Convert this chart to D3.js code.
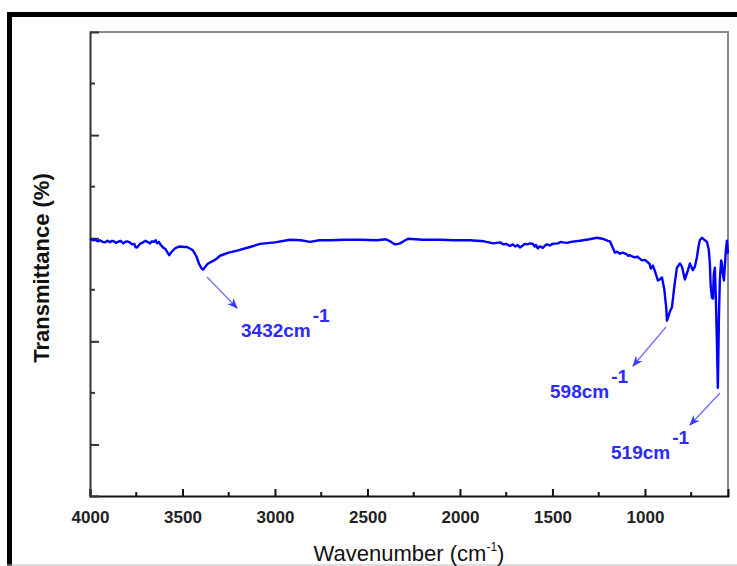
<!DOCTYPE html>
<html>
<head>
<meta charset="utf-8">
<script src="https://cdn.jsdelivr.net/npm/d3@7"></script>
<style>
  body { margin: 0; background: #fff; }
  svg { display: block; font-family: "Liberation Sans", Arial, sans-serif; }
</style>
</head>
<body>
<div id="plot"></div>
<script>
// FTIR spectrum, values
const wavenumber = [4000,3985,3970,3958,3946,3932,3920,3905,3892,3880,3870,3860,3849,3835,3820,3810,3800,3785,3773,3760,
  3755,3746,3730,3714,3700,3690,3676,3665,3655,3645,3638,3628,3620,3605,3590,3584,3572,3560,3541,3525,
  3514,3490,3476,3455,3443,3425,3410,3398,3389,3380,3365,3351,3320,3297,3250,3205,3135,3081,3000,2919,
  2860,2811,2760,2703,2620,2541,2450,2400,2378,2351,2335,2324,2300,2281,2200,2108,2030,1946,1870,1820,
  1784,1765,1750,1730,1715,1700,1688,1676,1660,1650,1638,1620,1606,1596,1590,1579,1570,1560,1552,1540,
  1530,1514,1500,1470,1455,1443,1420,1400,1352,1300,1260,1230,1200,1189,1178,1162,1150,1135,1120,1100,
  1090,1081,1066,1054,1040,1030,1016,1000,984,975,968,957,946,930,920,908,895,885,881,876,
  865,854,840,827,811,800,784,770,757,741,730,719,710,703,692,676,665,655,649,645,
  638,632,628,622,616,611,606,604,600,595,588,584,578,573,568,563,557,553,551];
const transmittance = [39.9,39.6,39.7,39.4,39.6,39.3,39.2,39.5,39.2,39.5,39.4,39.1,39.3,39.5,39.0,39.3,39.4,39.2,38.8,38.9,
  38.3,38.2,38.9,39.2,39.5,39.3,39.0,39.4,39.3,39.6,39.0,39.3,38.8,38.2,37.8,37.4,36.7,37.3,38.0,38.3,
  38.4,38.3,38.3,37.9,37.6,36.5,35.0,34.2,33.9,34.3,35.0,35.3,35.9,36.6,37.2,37.6,38.3,38.9,39.2,39.7,
  39.6,39.3,39.6,39.6,39.7,39.7,39.6,39.8,39.4,38.8,38.9,39.0,39.5,39.9,39.7,39.7,39.6,39.6,39.4,39.0,
  39.2,38.8,38.9,38.5,38.8,38.4,38.7,38.2,38.6,38.9,38.8,39.0,38.9,38.4,38.7,38.0,38.4,38.3,38.1,38.6,
  38.8,38.6,38.9,39.0,39.3,39.2,39.1,39.3,39.5,39.8,40.1,39.9,39.5,39.4,38.5,37.2,37.4,37.0,37.2,36.9,
  36.6,36.7,36.4,36.3,36.4,36.1,35.7,35.8,35.3,35.0,34.1,34.7,33.6,31.8,32.0,32.4,30.0,26.5,24.0,24.5,
  25.8,26.6,31.0,34.3,35.1,34.5,32.0,33.5,35.1,33.8,34.5,36.3,38.5,39.6,40.1,39.6,39.3,37.8,35.1,31.0,
  28.5,28.3,33.0,34.3,27.3,20.0,11.0,15.0,24.7,32.0,35.7,35.1,33.0,31.8,34.5,37.5,39.5,38.0,37.0];

const xMajorTicks = [4000,3500,3000,2500,2000,1500,1000];
const xMinorTicks = [3750,3250,2750,2250,1750,1250,750];
const yMajorTicks = [0,20,40,60];
const yMinorTicks = [10,30,50,70];

const peakLabels = ["3432", "598", "519"];

const W = 737, H = 566;
const margin = {top: 32, right: 9, bottom: 70, left: 90};

const svg = d3.select("#plot").append("svg")
  .attr("width", W).attr("height", H);

// outer black frame (top and left) and faint bottom line
svg.append("rect").attr("x", 7).attr("y", 12).attr("width", W - 7).attr("height", 5).attr("fill", "#000");
svg.append("rect").attr("x", 7).attr("y", 12).attr("width", 5).attr("height", H - 12).attr("fill", "#000");
svg.append("line").attr("x1", 7).attr("x2", W).attr("y1", 565).attr("y2", 565)
  .attr("stroke", "#bbb").attr("stroke-width", 1);

const x = d3.scaleLinear().domain([4000, 551]).range([margin.left, W - margin.right]);
const y = d3.scaleLinear().domain([-10, 80]).range([H - margin.bottom, margin.top]);

const x0 = x.range()[0], x1 = x.range()[1], y0 = y.range()[0], y1 = y.range()[1];

// top and right frame lines (gray)
svg.append("path")
  .attr("d", `M${x0},${y1}H${x1}V${y0}`)
  .attr("fill", "none").attr("stroke", "#8a8a8a").attr("stroke-width", 2);

// x axis
const xAxis = svg.append("g")
  .attr("transform", `translate(0,${y0})`)
  .call(d3.axisBottom(x).tickValues(xMajorTicks).tickSize(-7).tickPadding(15).tickFormat(d3.format("d")));
xAxis.select(".domain").attr("stroke", "#111").attr("stroke-width", 2);
xAxis.selectAll(".tick line").attr("stroke", "#111").attr("stroke-width", 2);
xAxis.selectAll(".tick text")
  .attr("font-size", 17).attr("font-weight", "bold").attr("fill", "#222");

svg.append("g").selectAll("line").data(xMinorTicks).join("line")
  .attr("x1", d => x(d)).attr("x2", d => x(d))
  .attr("y1", y0).attr("y2", y0 - 4)
  .attr("stroke", "#111").attr("stroke-width", 2);

// y axis (no tick labels)
const yAxis = svg.append("g")
  .attr("transform", `translate(${x0},0)`)
  .call(d3.axisLeft(y).tickValues(yMajorTicks).tickSize(-9).tickFormat(""));
yAxis.select(".domain").attr("stroke", "#333").attr("stroke-width", 2);
yAxis.selectAll(".tick line").attr("stroke", "#333").attr("stroke-width", 2);

svg.append("g").selectAll("line").data(yMinorTicks).join("line")
  .attr("x1", x0).attr("x2", x0 + 5)
  .attr("y1", d => y(d)).attr("y2", d => y(d))
  .attr("stroke", "#333").attr("stroke-width", 2);

// axis titles
const xTitle = svg.append("text")
  .attr("x", 409).attr("y", 561)
  .attr("text-anchor", "middle")
  .attr("font-size", 22).attr("fill", "#111");
xTitle.append("tspan").text("Wavenumber (cm");
xTitle.append("tspan").text("-1").attr("font-size", 12).attr("dy", -10);
xTitle.append("tspan").text(")").attr("dy", 10);

svg.append("text")
  .attr("transform", "translate(49,268) rotate(-90)")
  .attr("text-anchor", "middle")
  .attr("font-size", 22).attr("font-weight", "bold").attr("fill", "#111")
  .text("Transmittance (%)");

// spectrum
const line = d3.line().x((d, i) => x(wavenumber[i])).y(d => y(d));
svg.append("path")
  .datum(transmittance)
  .attr("fill", "none")
  .attr("stroke", "#0000ff")
  .attr("stroke-width", 2.4)
  .attr("stroke-linejoin", "round")
  .attr("d", line);

// peak annotations
svg.append("defs").append("marker")
  .attr("id", "arrow")
  .attr("viewBox", "0 0 10 10")
  .attr("refX", 9).attr("refY", 5)
  .attr("markerWidth", 9).attr("markerHeight", 9)
  .attr("orient", "auto")
  .append("path").attr("d", "M0,1L10,5L0,9L3,5Z").attr("fill", "#3b3bff");

const annotations = [
  {label: peakLabels[0], from: [207, 277], to: [237, 308], tx: 241, ty: 337},
  {label: peakLabels[1], from: [666, 327], to: [633, 366], tx: 550, ty: 398},
  {label: peakLabels[2], from: [720, 393], to: [690, 425], tx: 611, ty: 459}
];

annotations.forEach(a => {
  svg.append("line")
    .attr("x1", a.from[0]).attr("y1", a.from[1])
    .attr("x2", a.to[0]).attr("y2", a.to[1])
    .attr("stroke", "#6b6bff").attr("stroke-width", 1.2)
    .attr("marker-end", "url(#arrow)");
  const t = svg.append("text")
    .attr("x", a.tx).attr("y", a.ty)
    .attr("font-size", 19).attr("font-weight", "bold").attr("fill", "#2b2bff");
  t.append("tspan").text(a.label + "cm");
  t.append("tspan").text("-1").attr("dx", 2).attr("dy", -15).attr("font-size", 19);
});
</script>
</body>
</html>
